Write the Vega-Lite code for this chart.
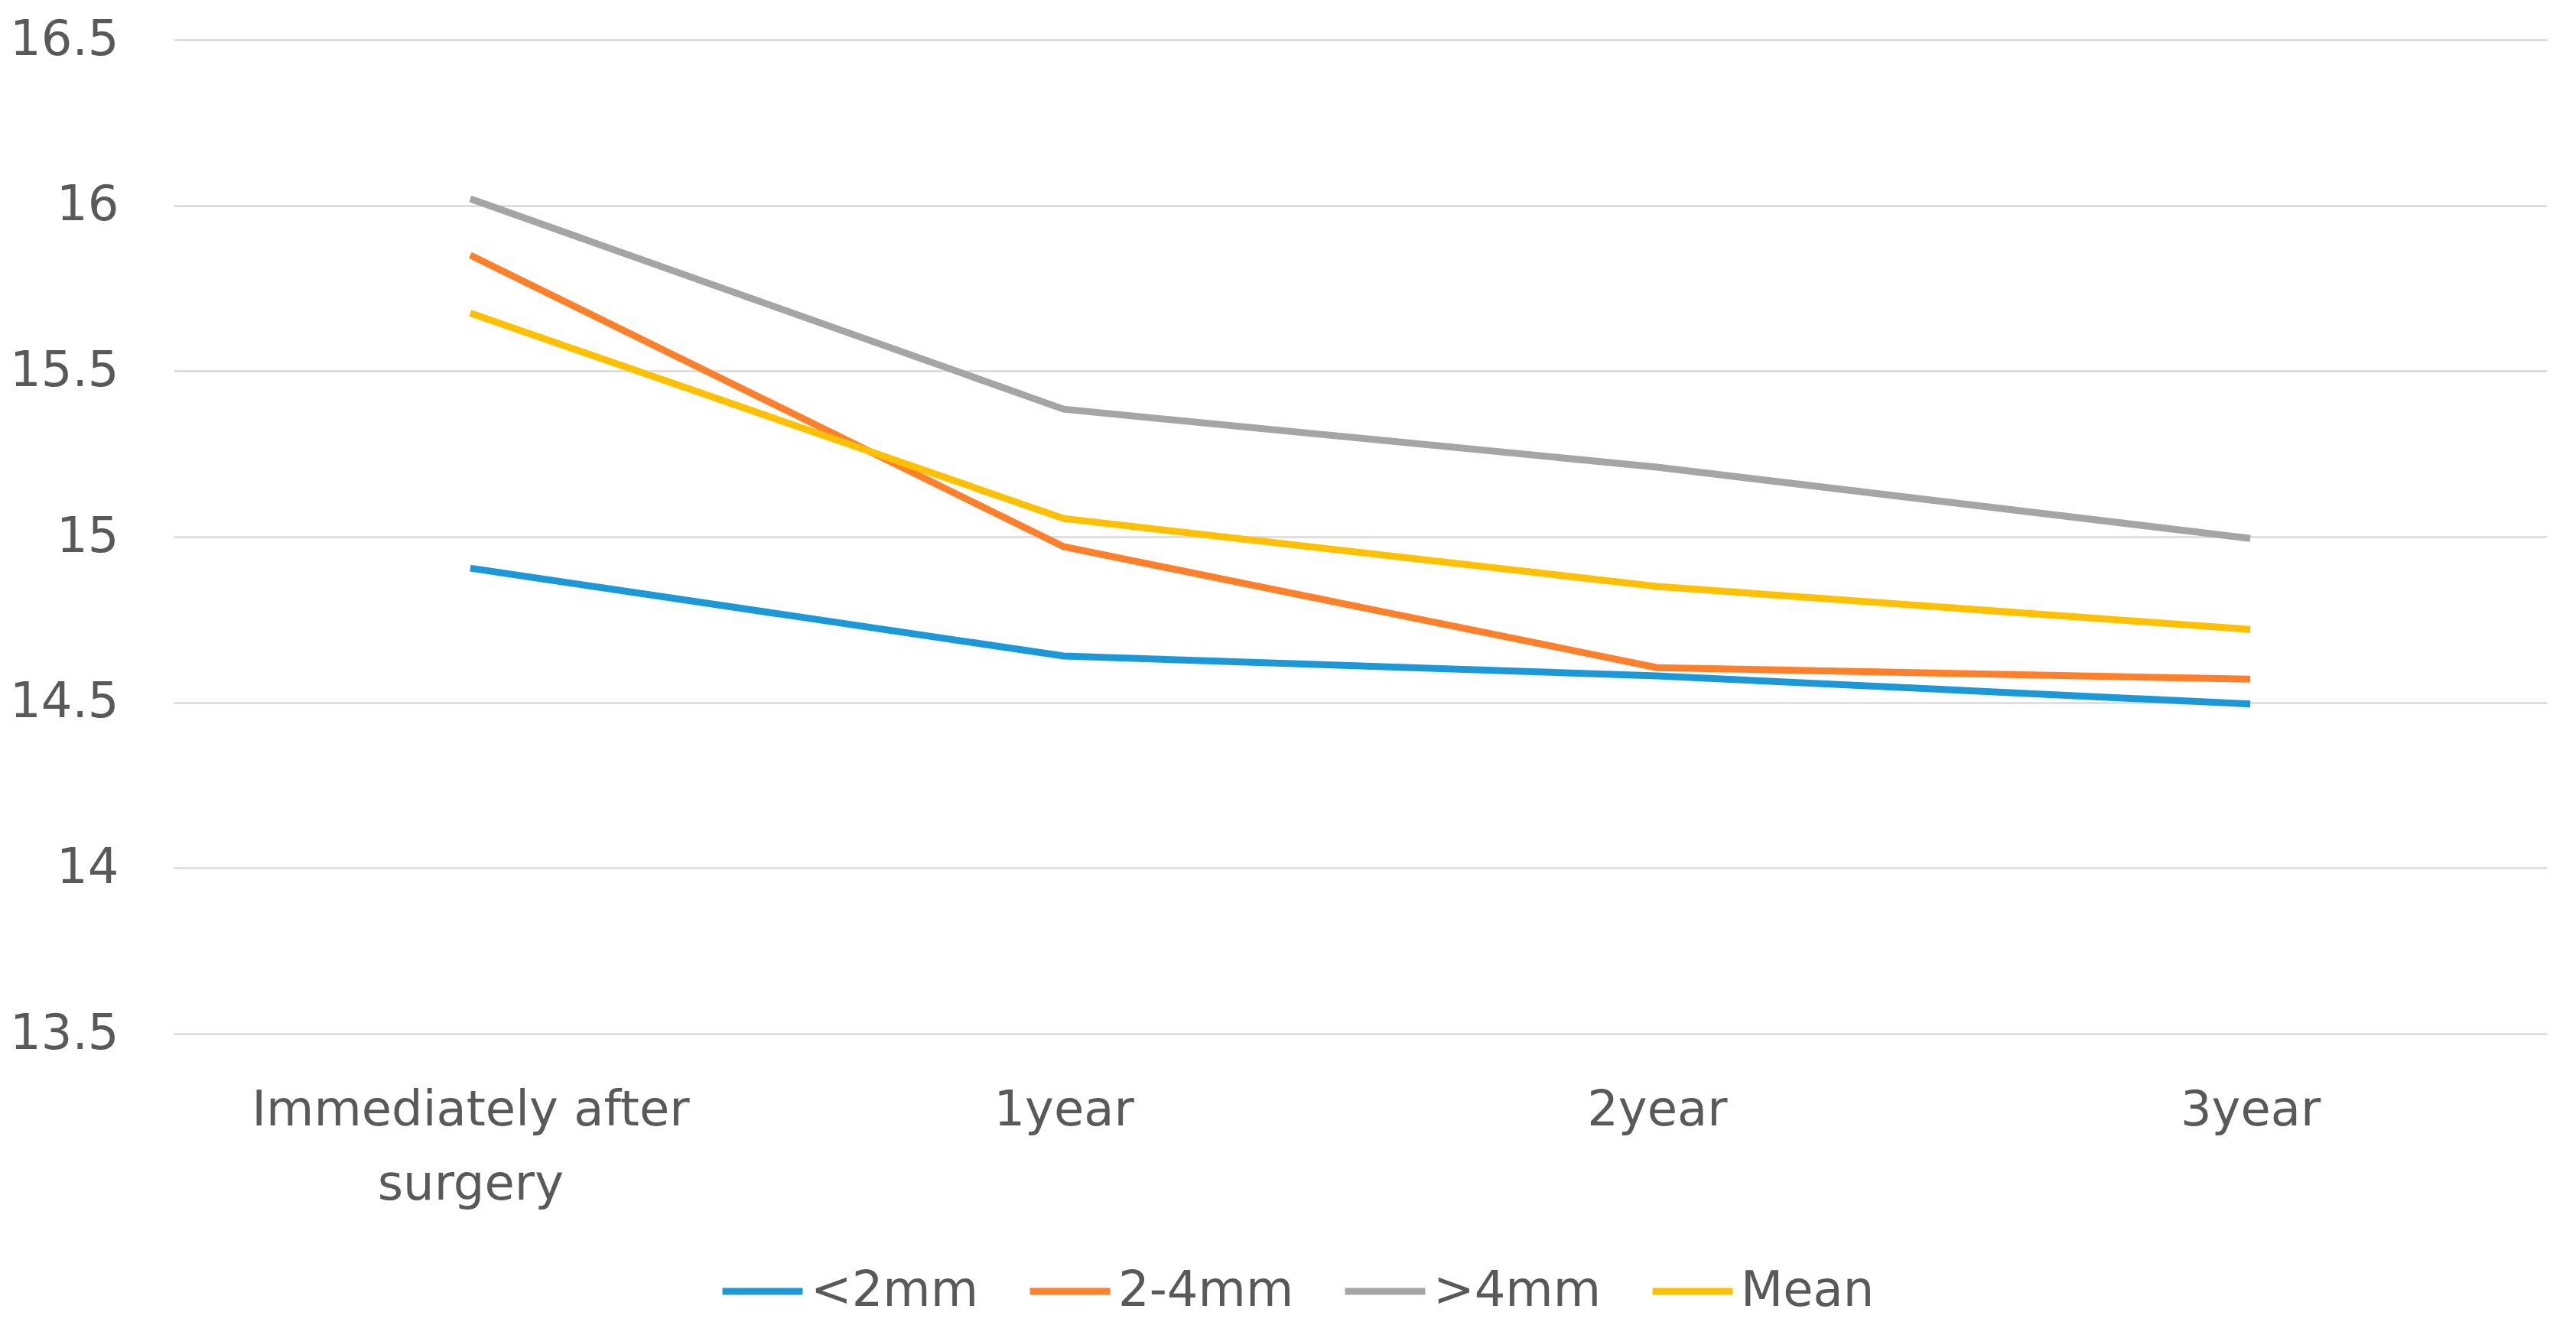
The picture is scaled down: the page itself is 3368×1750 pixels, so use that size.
{
  "$schema": "https://vega.github.io/schema/vega-lite/v6.json",
  "width": 3103,
  "height": 1300,
  "autosize": "none",
  "padding": {"left": 227, "top": 52, "right": 38, "bottom": 398},
  "background": "white",
  "data": {
    "values": [
      {"time": "Immediately after surgery", "group": "<2mm", "value": 14.905},
      {"time": "1year", "group": "<2mm", "value": 14.64},
      {"time": "2year", "group": "<2mm", "value": 14.58},
      {"time": "3year", "group": "<2mm", "value": 14.495},
      {"time": "Immediately after surgery", "group": "2-4mm", "value": 15.85},
      {"time": "1year", "group": "2-4mm", "value": 14.97},
      {"time": "2year", "group": "2-4mm", "value": 14.605},
      {"time": "3year", "group": "2-4mm", "value": 14.57},
      {"time": "Immediately after surgery", "group": ">4mm", "value": 16.02},
      {"time": "1year", "group": ">4mm", "value": 15.385},
      {"time": "2year", "group": ">4mm", "value": 15.21},
      {"time": "3year", "group": ">4mm", "value": 14.995},
      {"time": "Immediately after surgery", "group": "Mean", "value": 15.675},
      {"time": "1year", "group": "Mean", "value": 15.055},
      {"time": "2year", "group": "Mean", "value": 14.85},
      {"time": "3year", "group": "Mean", "value": 14.72}
    ]
  },
  "mark": {"type": "line", "strokeWidth": 9, "strokeCap": "butt", "strokeJoin": "miter"},
  "encoding": {
    "x": {
      "field": "time",
      "type": "nominal",
      "sort": ["Immediately after surgery", "1year", "2year", "3year"],
      "scale": {"type": "point", "padding": 0.5},
      "axis": {
        "title": null,
        "domain": false,
        "ticks": false,
        "grid": false,
        "labelAngle": 0,
        "labelFont": "DejaVu Sans",
        "labelFontSize": 64,
        "labelColor": "#595959",
        "labelPadding": 68,
        "labelLineHeight": 97,
        "labelLimit": 0,
        "labelExpr": "datum.label == 'Immediately after surgery' ? ['Immediately after', 'surgery'] : datum.label"
      }
    },
    "y": {
      "field": "value",
      "type": "quantitative",
      "scale": {"domain": [13.5, 16.5], "zero": false, "nice": false},
      "axis": {
        "title": null,
        "domain": false,
        "ticks": false,
        "values": [13.5, 14, 14.5, 15, 15.5, 16, 16.5],
        "format": "~g",
        "labelFont": "DejaVu Sans",
        "labelFontSize": 64,
        "labelColor": "#595959",
        "labelPadding": 72,
        "gridColor": "#D9D9D9",
        "gridWidth": 2.5
      }
    },
    "color": {
      "field": "group",
      "type": "nominal",
      "sort": ["<2mm", "2-4mm", ">4mm", "Mean"],
      "scale": {
        "domain": ["<2mm", "2-4mm", ">4mm", "Mean"],
        "range": ["#1B98D8", "#FF7F2A", "#A5A5A5", "#FFC000"]
      },
      "legend": {
        "title": null,
        "orient": "none",
        "legendX": 713,
        "legendY": 1580,
        "direction": "horizontal",
        "symbolType": "stroke",
        "symbolSize": 11000,
        "symbolStrokeWidth": 9,
        "labelFont": "DejaVu Sans",
        "labelFontSize": 64,
        "labelColor": "#595959",
        "labelOffset": 6,
        "labelLimit": 0,
        "columnPadding": 48
      }
    }
  },
  "config": {"view": {"stroke": null}}
}
